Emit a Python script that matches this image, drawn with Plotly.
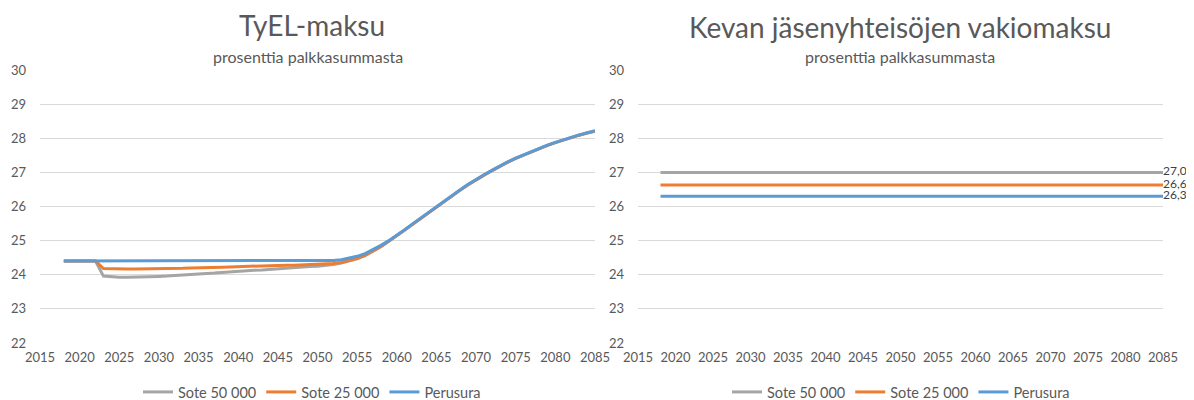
import plotly.graph_objects as go

# vuodet
years = list(range(2018, 2086))

# TyEL-maksu, prosenttia palkkasummasta
tyel_sote50 = [24.4, 24.4, 24.4, 24.4, 24.4,
               23.96, 23.94, 23.93, 23.93, 23.93, 23.93, 23.94, 23.95, 23.96, 23.98,
               23.99, 24.01, 24.02, 24.04, 24.05, 24.07, 24.08, 24.1, 24.11, 24.13,
               24.14, 24.16, 24.17, 24.19, 24.2, 24.22, 24.24, 24.25, 24.27, 24.3,
               24.34, 24.4, 24.47, 24.56, 24.68, 24.82, 24.98,
               25.14, 25.31, 25.48, 25.65, 25.82, 25.99, 26.16, 26.32, 26.48, 26.64,
               26.79, 26.92, 27.05, 27.18, 27.3, 27.41, 27.51, 27.61, 27.7, 27.79,
               27.87, 27.95, 28.02, 28.09, 28.15, 28.21]
tyel_sote25 = [24.4, 24.4, 24.4, 24.4, 24.4,
               24.18, 24.17, 24.17, 24.17, 24.17, 24.17, 24.17, 24.18, 24.18, 24.19,
               24.19, 24.2, 24.2, 24.21, 24.22, 24.22, 24.23, 24.24, 24.24, 24.25,
               24.26, 24.26, 24.27, 24.28, 24.28, 24.29, 24.29, 24.3, 24.31, 24.33,
               24.36, 24.41, 24.48, 24.57, 24.69, 24.83, 24.99,
               25.14, 25.31, 25.48, 25.65, 25.82, 25.99, 26.16, 26.32, 26.48, 26.64,
               26.79, 26.92, 27.05, 27.18, 27.3, 27.41, 27.51, 27.61, 27.7, 27.79,
               27.87, 27.95, 28.02, 28.09, 28.15, 28.21]
tyel_perus = [24.4, 24.4, 24.4, 24.4, 24.4, 24.4, 24.4, 24.4, 24.4, 24.4, 24.4,
              24.4, 24.4, 24.4, 24.4, 24.4, 24.4, 24.4, 24.4, 24.4, 24.4, 24.4,
              24.4, 24.4, 24.4, 24.4, 24.4, 24.4, 24.4, 24.4, 24.4, 24.4, 24.4,
              24.41, 24.42, 24.44, 24.48, 24.54, 24.62, 24.73, 24.86, 25.0,
              25.15, 25.32, 25.49, 25.66, 25.83, 26.0, 26.17, 26.33, 26.49, 26.65,
              26.8, 26.93, 27.06, 27.19, 27.31, 27.42, 27.52, 27.62, 27.71, 27.8,
              27.88, 27.96, 28.03, 28.1, 28.16, 28.22]

# Kevan vakiomaksu (vakio koko jakson)
kevan_years = [2018, 2085]
kevan_sote50 = [27.0, 27.0]
kevan_sote25 = [26.63, 26.63]
kevan_perus = [26.3, 26.3]
kevan_labels = ["27,0", "26,6", "26,3"]

names = ["Sote 50 000", "Sote 25 000", "Perusura"]
colors = ["#A5A5A5", "#ED7D31", "#5B9BD5"]

FONT = "Lato"
TXT = "#595959"

# sivun body-marginaali (8 px) siirtää kuvaa, joten koko ja paikat lasketaan sen mukaan
OFF = 8
W, H = 1194 - OFF, 400 - OFF


def px(x):
    return (x - OFF) / W


def py(y):
    return 1 - (y - OFF) / H


fig = go.Figure()

for name, vals, col in zip(names, [tyel_sote50, tyel_sote25, tyel_perus], colors):
    fig.add_trace(go.Scatter(x=years, y=vals, mode='lines', name=name,
                             line=dict(color=col, width=3),
                             xaxis='x', yaxis='y', legend='legend',
                             hoverinfo='skip'))

for name, vals, col, lab in zip(names, [kevan_sote50, kevan_sote25, kevan_perus],
                                colors, kevan_labels):
    fig.add_trace(go.Scatter(x=kevan_years, y=vals, mode='lines+text', name=name,
                             line=dict(color=col, width=3),
                             text=["", lab], textposition='middle right',
                             textfont=dict(family=FONT, size=12, color="#404040"),
                             cliponaxis=False,
                             xaxis='x2', yaxis='y2', legend='legend2',
                             hoverinfo='skip'))

xax = dict(range=[2015, 2085], dtick=5, tick0=2015, showgrid=False, zeroline=False,
           showline=False, ticks='', ticklabelstandoff=5,
           tickfont=dict(family=FONT, size=13, color=TXT))
yax = dict(range=[22, 30], dtick=1, showgrid=True, gridcolor='#D9D9D9', gridwidth=1,
           zeroline=False, showline=False, ticks='', ticklabelstandoff=13,
           tickfont=dict(family=FONT, size=13, color=TXT),
           domain=[py(343), py(70)])

leg = dict(orientation='h', y=py(392), xanchor='center', yanchor='middle',
           font=dict(family=FONT, size=14.5, color=TXT), itemwidth=30,
           bgcolor='rgba(0,0,0,0)')

fig.update_layout(
    width=W, height=H,
    margin=dict(l=0, r=0, t=0, b=0, autoexpand=False),
    paper_bgcolor='white', plot_bgcolor='white',
    font=dict(family=FONT, color=TXT),
    xaxis=dict(xax, domain=[px(40), px(595)], anchor='y'),
    yaxis=dict(yax, anchor='x'),
    xaxis2=dict(xax, domain=[px(638), px(1163)], anchor='y2'),
    yaxis2=dict(yax, anchor='x2'),
    legend=dict(leg, x=px(312)),
    legend2=dict(leg, x=px(901)),
    annotations=[
        dict(text="TyEL-maksu", x=px(312), y=py(25)),
        dict(text="prosenttia palkkasummasta", x=px(308), y=py(56)),
        dict(text="Kevan jäsenyhteisöjen vakiomaksu", x=px(900), y=py(27)),
        dict(text="prosenttia palkkasummasta", x=px(900), y=py(56)),
    ],
)
for i, a in enumerate(fig.layout.annotations):
    a.update(xref='paper', yref='paper', xanchor='center', yanchor='middle',
             showarrow=False,
             font=dict(family=FONT, size=28 if i % 2 == 0 else 16, color=TXT))

fig.write_html("out.html")
